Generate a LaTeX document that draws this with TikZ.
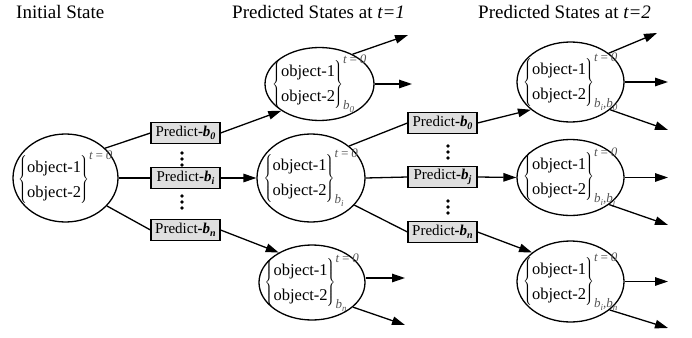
\documentclass[tikz,border=0pt]{standalone}
\usepackage{fontspec}
\setmainfont{Liberation Serif}
\usetikzlibrary{shapes.geometric,arrows.meta}
\definecolor{boxgray}{HTML}{DFDFDF}
\definecolor{scriptgray}{HTML}{555555}
\newcommand{\supf}{\fontsize{13}{13}\selectfont\itshape\color{scriptgray}}
\newcommand{\bsb}[1]{b\raisebox{-0.45ex}{\fontsize{9}{9}\selectfont #1}}
\newcommand{\objs}[1]{\fontsize{16.5}{25}\selectfont$\left\{\begin{tabular}{@{}l@{}}object-1\\object-2\end{tabular}\kern-1pt\right\}^{\hbox{\supf t\,=\,0}}_{\hbox{\supf #1}}$}
\newcommand{\pred}[1]{\fontsize{15}{17}\selectfont Predict\textbf{-\textit{b}}\raisebox{-0.5ex}{\fontsize{10}{10}\selectfont\bfseries\itshape #1}}
\begin{document}
\begin{tikzpicture}[x=1pt,y=-1pt,
  ell/.style={ellipse,draw,line width=1.3pt,inner sep=0pt},
  predbox/.style={rectangle,draw,line width=1.1pt,fill=boxgray,minimum width=69pt,minimum height=21pt,inner sep=1pt},
  conn/.style={line width=1.3pt},
  arr/.style={line width=1.3pt,-{Triangle[length=13pt,width=8.5pt]}},
  title/.style={anchor=west,inner sep=0pt,font=\fontsize{19}{22}\selectfont},
  dotmark/.style={circle,fill=black,inner sep=0pt,minimum size=3.6pt}]
\useasboundingbox (0,0) rectangle (692,337);

% titles
\node[title] (T0) at (16,12) {Initial State};
\node[title] (T1) at (232,12) {Predicted States at \textit{t=1}};
\node[title] (T2) at (478,12) {Predicted States at \textit{t=2}};

% ellipses
\node[ell,minimum width=105pt,minimum height=88pt] (E0) at (65.5,178) {};
\node[ell,minimum width=109pt,minimum height=73pt] (E1a) at (319.5,84) {};
\node[ell,minimum width=108pt,minimum height=88pt] (E1b) at (311,178) {};
\node[ell,minimum width=106pt,minimum height=75pt] (E1c) at (312,282.5) {};
\node[ell,minimum width=107pt,minimum height=80pt] (E2a) at (570.5,82) {};
\node[ell,minimum width=107pt,minimum height=76pt] (E2b) at (570.5,177.5) {};
\node[ell,minimum width=107pt,minimum height=81pt] (E2c) at (570.5,281.5) {};

% ellipse contents
\node (C0) at (E0) {\objs{}};
\node (C1a) at (E1a) {\objs{\bsb{0}}};
\node (C1b) at (E1b) {\objs{\bsb{i}}};
\node (C1c) at (E1c) {\objs{\bsb{n}}};
\node (C2a) at (E2a) {\objs{\bsb{i},\bsb{0}}};
\node (C2b) at (E2b) {\objs{\bsb{i},\bsb{j}}};
\node (C2c) at (E2c) {\objs{\bsb{i},\bsb{n}}};

% predict boxes
\node[predbox] (P0a) at (185.5,133) {\pred{0}};
\node[predbox] (Pia) at (185.5,178) {\pred{i}};
\node[predbox] (Pna) at (185.5,230) {\pred{n}};
\node[predbox] (P0b) at (442.5,123) {\pred{0}};
\node[predbox] (Pjb) at (442.5,177) {\pred{j}};
\node[predbox] (Pnb) at (442.5,232) {\pred{n}};

% dots
\foreach \y in {153,159,165,196,202,208} \node[dotmark] at (182,\y) {};
\foreach \y in {146,152,158,201,207,213} \node[dotmark] at (448,\y) {};

% column 1 connectors
\draw[conn] (E0.37) -- (P0a.west);
\draw[conn] (E0.east) -- (Pia.west);
\draw[conn] (E0.-34) -- (Pna.west);
\draw[arr] (P0a.east) -- (E1a.215);
\draw[arr] (Pia.east) -- (E1b.west);
\draw[arr] (Pna.east) -- (E1c.138);

% column 2 connectors
\draw[conn] (E1b.40) -- (P0b.west);
\draw[conn] (E1b.east) -- (Pjb.west);
\draw[conn] (E1b.-32) -- (Pnb.west);
\draw[arr] (P0b.east) -- (E2a.215);
\draw[arr] (Pjb.east) -- (E2b.west);
\draw[arr] (Pnb.east) -- (E2c.143);

% free ends
\coordinate (O1a) at (408,35);
\coordinate (O1b) at (412,84);
\coordinate (O1c) at (405,278);
\coordinate (O1d) at (405,325);
\coordinate (O2a) at (657,33);
\coordinate (O2b) at (668,82);
\coordinate (O2c) at (668,130);
\coordinate (O2d) at (668,177.5);
\coordinate (O2e) at (668,225);
\coordinate (O2f) at (668,281.5);
\coordinate (O2g) at (668,328);

\draw[arr] (E1a.42) -- (O1a);
\draw[arr] (E1a.east) -- (O1b);
\draw[arr] (E1c.east |- O1c) -- (O1c);
\draw[arr] (E1c.-31) -- (O1d);
\draw[arr] (E2a.37) -- (O2a);
\draw[arr] (E2a.east) -- (O2b);
\draw[arr] (E2a.-35) -- (O2c);
\draw[arr] (E2b.east) -- (O2d);
\draw[arr] (E2b.-35) -- (O2e);
\draw[arr] (E2c.east) -- (O2f);
\draw[arr] (E2c.-36) -- (O2g);
\end{tikzpicture}
\end{document}
